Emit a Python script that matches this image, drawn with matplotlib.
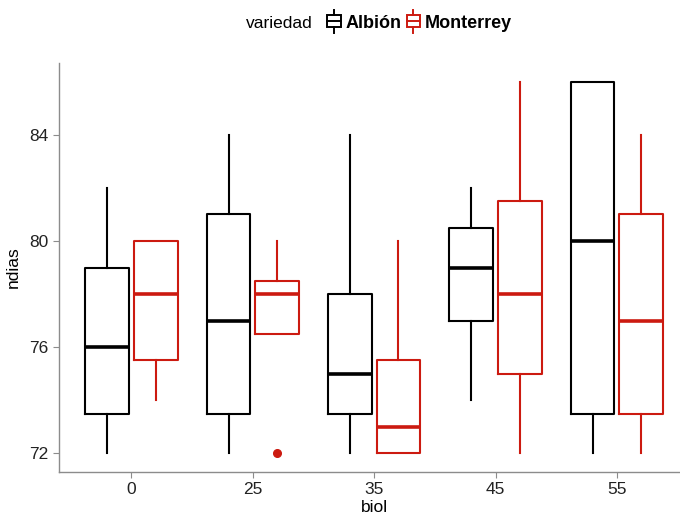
import numpy as np
import matplotlib
matplotlib.use("Agg")
import matplotlib.pyplot as plt
from matplotlib.patches import Patch, Rectangle
from matplotlib.lines import Line2D
from matplotlib.legend_handler import HandlerBase

plt.rcParams['font.family'] = ['Liberation Sans', 'DejaVu Sans']

biol = ['0', '25', '35', '45', '55']
varieties = ['Albión', 'Monterrey']
colors = ['#000000', '#CC1A10']

# Albión
alb_whislo = [72, 72, 72, 74, 72]
alb_q1 = [73.5, 73.5, 73.5, 77, 73.5]
alb_med = [76, 77, 75, 79, 80]
alb_q3 = [79, 81, 78, 80.5, 86]
alb_whishi = [82, 84, 84, 82, 86]
alb_fliers = [[], [], [], [], []]

# Monterrey
mon_whislo = [74, 76.5, 72, 72, 72]
mon_q1 = [75.5, 76.5, 72, 75, 73.5]
mon_med = [78, 78, 73, 78, 77]
mon_q3 = [80, 78.5, 75.5, 81.5, 81]
mon_whishi = [80, 80, 80, 86, 84]
mon_fliers = [[], [72], [], [], []]


def make_stats(whislo, q1, med, q3, whishi, fliers):
    return [dict(whislo=a, q1=b, med=c, q3=d, whishi=e, fliers=f)
            for a, b, c, d, e, f in zip(whislo, q1, med, q3, whishi, fliers)]


class BoxKey(HandlerBase):
    def create_artists(self, legend, orig_handle, xdescent, ydescent,
                       width, height, fontsize, trans):
        c = orig_handle.get_edgecolor()
        x0, y0 = -xdescent, -ydescent
        xm = x0 + width / 2
        lw = 1.4
        box = Rectangle((x0, y0), width, height, fill=False, edgecolor=c,
                        linewidth=lw, transform=trans)
        mid = Line2D([x0, x0 + width], [y0 + 0.5 * height] * 2,
                     color=c, linewidth=lw, transform=trans)
        top = Line2D([xm, xm], [y0 + height, y0 + 1.45 * height],
                     color=c, linewidth=lw, transform=trans)
        bot = Line2D([xm, xm], [y0 - 0.45 * height, y0],
                     color=c, linewidth=lw, transform=trans)
        return [box, mid, top, bot]


fig = plt.figure(figsize=(6.8, 5.17), dpi=100)
ax = fig.add_axes([0.0863, 0.087, 0.928, 0.791])

x = np.arange(len(biol))
all_stats = [make_stats(alb_whislo, alb_q1, alb_med, alb_q3, alb_whishi, alb_fliers),
             make_stats(mon_whislo, mon_q1, mon_med, mon_q3, mon_whishi, mon_fliers)]
offsets = [-0.2, 0.2]

for stats, off, col in zip(all_stats, offsets, colors):
    ax.bxp(stats, positions=x + off, widths=0.36, showcaps=False, showfliers=True,
           boxprops=dict(color=col, linewidth=1.5),
           whiskerprops=dict(color=col, linewidth=1.5),
           medianprops=dict(color=col, linewidth=2.6, solid_capstyle='butt'),
           flierprops=dict(marker='o', markerfacecolor=col, markeredgecolor=col,
                           markersize=5.5, linestyle='none'),
           manage_ticks=False)

ax.set_xlim(-0.6, 4.6)
ax.set_ylim(71.3, 86.7)
ax.set_xticks(x)
ax.set_xticklabels(biol)
ax.set_yticks([72, 76, 80, 84])
for s in ['top', 'right']:
    ax.spines[s].set_visible(False)
for s in ['left', 'bottom']:
    ax.spines[s].set_color('#8c8c8c')
    ax.spines[s].set_linewidth(1.0)
ax.tick_params(colors='#8c8c8c', labelcolor='#222222', labelsize=12.5, length=4)
ax.set_xlabel('biol', fontsize=12.5, labelpad=2)
ax.set_ylabel('ndias', fontsize=12.5, labelpad=6)

fig.text(246 / 680, 0.955, 'variedad', fontsize=12.5, va='center', ha='left')
handles = [Patch(edgecolor=c, facecolor='none') for c in colors]
leg = fig.legend(handles, varieties, handler_map={Patch: BoxKey()}, ncol=2,
                 loc='center left', bbox_to_anchor=(318 / 680, 0.955), frameon=False,
                 handlelength=0.75, handleheight=0.65, handletextpad=0.25,
                 columnspacing=0.3, borderpad=0,
                 prop=dict(size=13, weight='bold'))

fig.savefig('out.png', dpi=100)
